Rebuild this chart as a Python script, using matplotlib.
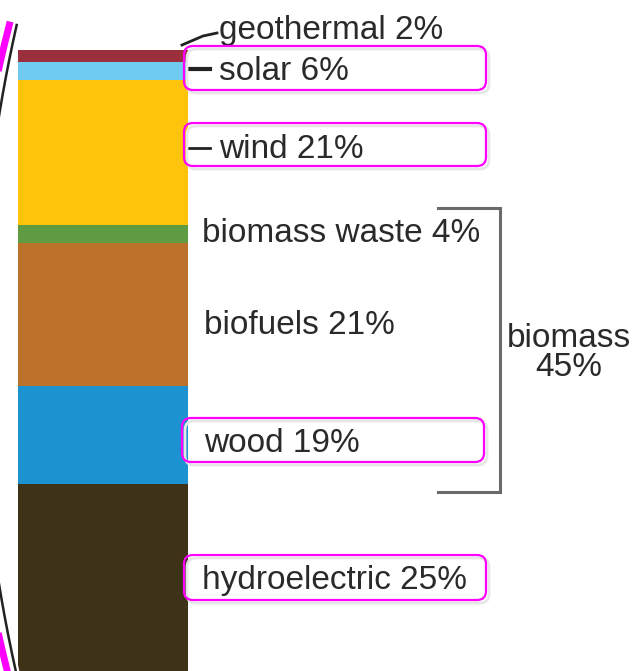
import matplotlib
matplotlib.use("Agg")
import matplotlib.pyplot as plt
from matplotlib.patches import FancyBboxPatch
import numpy as np

plt.rcParams['font.family'] = ['Liberation Sans', 'DejaVu Sans']

# ---- data ----
categories = ["geothermal", "solar", "wind", "biomass waste", "biofuels", "wood", "hydroelectric"]
percent_labels = ["2%", "6%", "21%", "4%", "21%", "19%", "25%"]
# visual segment heights as drawn in the picture (picture units, top to bottom)
segment_heights = [12, 18, 145, 18, 143, 98, 190]
colors = ["#9c2f3d", "#6fcbef", "#fdc40b", "#5f9b40", "#bd722b", "#1c93d0", "#3e3318"]
group_label = "biomass\n45%"

W, H = 634, 671
fig = plt.figure(figsize=(W / 100, H / 100), dpi=100)
ax = fig.add_axes([0, 0, 1, 1])
ax.set_xlim(0, W)
ax.set_ylim(H, 0)
ax.axis("off")

bar_top = 50
bottoms = bar_top + np.concatenate([[0], np.cumsum(segment_heights)[:-1]])
ax.bar(103, segment_heights, bottom=bottoms, width=170, color=colors,
       edgecolor="none", align="center", clip_on=True)

txt_color = "#2a2a2a"
fs = 24
label_pos = {
    "geothermal": (219, 30),
    "solar": (219, 71),
    "wind": (219, 149),
    "biomass waste": (202, 233),
    "biofuels": (204, 325),
    "wood": (204, 444),
    "hydroelectric": (202, 580),
}
for cat, pct in zip(categories, percent_labels):
    x, y = label_pos[cat]
    ax.text(x, y, f"{cat} {pct}", fontsize=fs, color=txt_color, va="center", ha="left")

ax.text(569, 353, group_label, fontsize=fs, color=txt_color, va="center", ha="center",
        linespacing=0.92)

# leader lines
ax.plot([182, 203, 217], [45, 36, 33], color="#222222", lw=2)
ax.plot([190, 210], [69, 69], color="#222222", lw=3)
ax.plot([188, 210], [148, 148], color="#222222", lw=2)

# bracket for biomass
ax.plot([438, 500, 500, 438], [208, 208, 492, 492], color="#6a6a6a", lw=2.2,
        solid_joinstyle="miter")

# magenta highlight boxes
boxes = [(184, 46, 302, 44), (184, 123, 302, 43), (182, 418, 302, 44), (184, 555, 302, 45)]
for (bx, by, bw, bh) in boxes:
    sh = FancyBboxPatch((bx + 3, by + 3), bw, bh, boxstyle="round,pad=0,rounding_size=9",
                        fc="none", ec="#e6e6e6", lw=2.0, zorder=3)
    ax.add_patch(sh)
    p = FancyBboxPatch((bx, by), bw, bh, boxstyle="round,pad=0,rounding_size=9",
                       fc="none", ec="#ff00ff", lw=1.6, zorder=4)
    ax.add_patch(p)

# left curved brace lines
yy = np.linspace(25, 675, 300)
t = (yy - 350) / 322
xx = 16 - 36 * (1 - t ** 2)
ax.plot(xx, yy, color="white", lw=5, solid_capstyle="butt")
ax.plot(xx, yy, color="#222222", lw=1.8)
xm = 7 - 40 * (1 - ((yy - 352) / 318) ** 2)
ax.plot(xm, yy, color="#ff00ff", lw=5)

fig.savefig("out.png", dpi=100)
